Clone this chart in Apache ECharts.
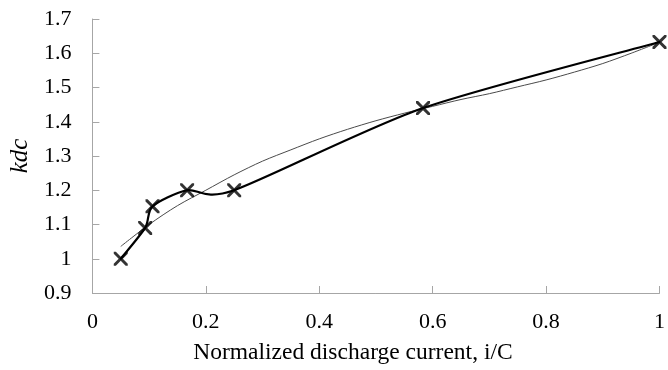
<!DOCTYPE html>
<html>
<head>
<meta charset="utf-8">
<script src="https://cdn.jsdelivr.net/npm/echarts@6/dist/echarts.min.js"></script>
<style>html,body{margin:0;padding:0;background:#fff}#c{width:668px;height:370px}</style>
</head>
<body>
<div id="c"></div>
<script>
// Measured points (normalized discharge current vs kdc)
const measX = [0.05, 0.093, 0.106, 0.167, 0.25, 0.583, 1.0];
const measY = [1.0, 1.09, 1.153, 1.2, 1.2, 1.44, 1.633];
// Thin trend line
const trendX = [0.05, 0.1, 0.15, 0.2, 0.25, 0.3, 0.35, 0.4, 0.45, 0.5, 0.55, 0.6, 0.65, 0.7, 0.75, 0.8, 0.85, 0.9, 0.95, 1.0];
const trendY = [1.036, 1.10, 1.155, 1.20, 1.245, 1.285, 1.318, 1.35, 1.378, 1.403, 1.425, 1.445, 1.465, 1.482, 1.502, 1.522, 1.545, 1.570, 1.600, 1.632];
const xTicks = [0, 0.2, 0.4, 0.6, 0.8, 1];
const yTicks = [0.9, 1.0, 1.1, 1.2, 1.3, 1.4, 1.5, 1.6, 1.7];

const font = '"Liberation Serif", "Times New Roman", serif';
const xMark = 'path://M0,0L1.5,0L5,3.5L8.5,0L10,0L10,1.5L6.5,5L10,8.5L10,10L8.5,10L5,6.5L1.5,10L0,10L0,8.5L3.5,5L0,1.5Z';
const measData = measX.map((x, i) => [x, measY[i]]);

// Smoothed segment (Catmull-Rom style tangents) drawn in the axis' pixel space
function renderSmooth(params, api) {
  const i = params.dataIndex;
  const n = measData.length;
  if (i >= n - 1) return null;
  const P = k => api.coord(measData[Math.max(0, Math.min(n - 1, k))]);
  const p0 = P(i - 1), p1 = P(i), p2 = P(i + 1), p3 = P(i + 2);
  const t = 0.13;
  return {
    type: 'bezierCurve',
    shape: {
      x1: p1[0], y1: p1[1], x2: p2[0], y2: p2[1],
      cpx1: p1[0] + (p2[0] - p0[0]) * t, cpy1: p1[1] + (p2[1] - p0[1]) * t,
      cpx2: p2[0] - (p3[0] - p1[0]) * t, cpy2: p2[1] - (p3[1] - p1[1]) * t
    },
    style: {stroke: '#000', lineWidth: 2.2, fill: null, lineCap: 'round'}
  };
}

const chart = echarts.init(document.getElementById('c'), null, {renderer: 'canvas'});
chart.setOption({
  animation: false,
  backgroundColor: '#fff',
  grid: {left: 90, right: 5, top: 19, bottom: 75, containLabel: false},
  xAxis: {
    type: 'value', min: 0, max: 1, interval: 0.2,
    axisLine: {show: true, lineStyle: {color: '#a6a6a6', width: 1}},
    axisTick: {show: true, inside: true, length: 7, lineStyle: {color: '#a6a6a6'}},
    splitLine: {show: false},
    axisLabel: {fontFamily: font, fontSize: 22, color: '#000', margin: 18,
      formatter: v => { const t = xTicks.find(a => Math.abs(a - v) < 1e-9); return t === undefined ? '' : String(t); }},
    name: 'Normalized discharge current, i/C', nameLocation: 'middle', nameGap: 48,
    nameTextStyle: {fontFamily: font, fontSize: 23.5, color: '#000', padding: [0, 46, 0, 0]}
  },
  yAxis: {
    type: 'value', min: 0.9, max: 1.7, interval: 0.1,
    axisLine: {show: true, lineStyle: {color: '#a6a6a6', width: 1}},
    axisTick: {show: true, inside: true, length: 7, lineStyle: {color: '#a6a6a6'}},
    splitLine: {show: false},
    axisLabel: {fontFamily: font, fontSize: 22, color: '#000', margin: 21,
      formatter: v => { const t = yTicks.find(a => Math.abs(a - v) < 1e-9); return t === undefined ? '' : String(t); }},
    name: 'kdc', nameLocation: 'middle', nameGap: 56, nameRotate: 90,
    nameTextStyle: {fontFamily: font, fontSize: 25, fontStyle: 'italic', color: '#000'}
  },
  series: [
    {
      type: 'line', name: 'trend', data: trendX.map((x, i) => [x, trendY[i]]),
      smooth: 0.3, showSymbol: false, symbol: 'none',
      lineStyle: {color: '#4a4a4a', width: 1}, z: 2
    },
    {
      type: 'custom', name: 'kdc-line', data: measData, renderItem: renderSmooth,
      encode: {x: 0, y: 1}, z: 3, clip: false
    },
    {
      type: 'scatter', name: 'kdc', data: measData,
      symbol: xMark, symbolSize: 14, itemStyle: {color: '#000'}, z: 4
    }
  ]
});
</script>
</body>
</html>
